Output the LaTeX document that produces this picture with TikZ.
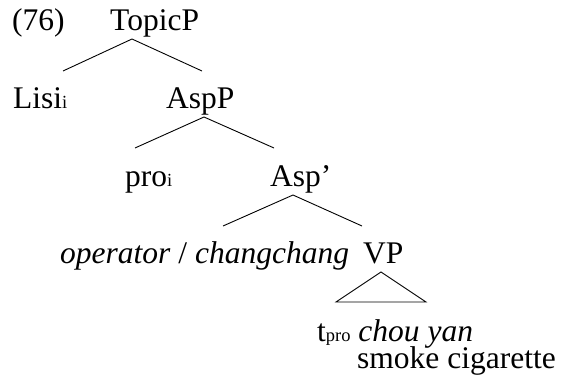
\documentclass[tikz,border=0pt]{standalone}
\usepackage{fontspec}
\setmainfont{Liberation Serif}
\newcommand\smallsub[1]{{\fontsize{18.5}{20}\selectfont #1}}
\begin{document}
\begin{tikzpicture}[x=1pt,y=-1pt,
  lbl/.style={anchor=base west,inner sep=0pt,font=\fontsize{31.5}{36}\selectfont},
  branch/.style={line width=0.9pt,line join=miter}]
\useasboundingbox (0,0) rectangle (561,385);
% labels
\node[lbl] (ex) at (12,31) {(76)};
\node[lbl] (topic) at (110,31) {TopicP};
\node[lbl] (lisi) at (13,108) {Lisi\smallsub{i}};
\node[lbl] (aspP) at (166,108) {AspP};
\node[lbl] (pro) at (125,186) {pro\smallsub{i}};
\node[lbl] (aspbar) at (270,186) {Asp’};
\node[lbl] (op) at (60,263) {\textit{operator} / \textit{changchang}};
\node[lbl] (vp) at (363,263) {VP};
\node[lbl] (tpro) at (317,341) {t\smallsub{pro} \textit{chou yan}};
\node[lbl] (smoke) at (357,368) {smoke cigarette};
% branch points
\coordinate (topicA) at (132,39);
\coordinate (topicL) at (63,71);
\coordinate (topicR) at (202,71);
\coordinate (aspPA) at (204,117);
\coordinate (aspPL) at (135,148);
\coordinate (aspPR) at (274,148);
\coordinate (aspbarA) at (293,195);
\coordinate (aspbarL) at (223,226);
\coordinate (aspbarR) at (362,226);
\coordinate (vpA) at (381,272);
\coordinate (vpL) at (336,302);
\coordinate (vpR) at (426,302);
% branches
\draw[branch] (topicL) -- (topicA) -- (topicR);
\draw[branch] (aspPL) -- (aspPA) -- (aspPR);
\draw[branch] (aspbarL) -- (aspbarA) -- (aspbarR);
\draw[branch] (vpA) -- (vpL) -- (vpR) -- cycle;
\end{tikzpicture}
\end{document}
